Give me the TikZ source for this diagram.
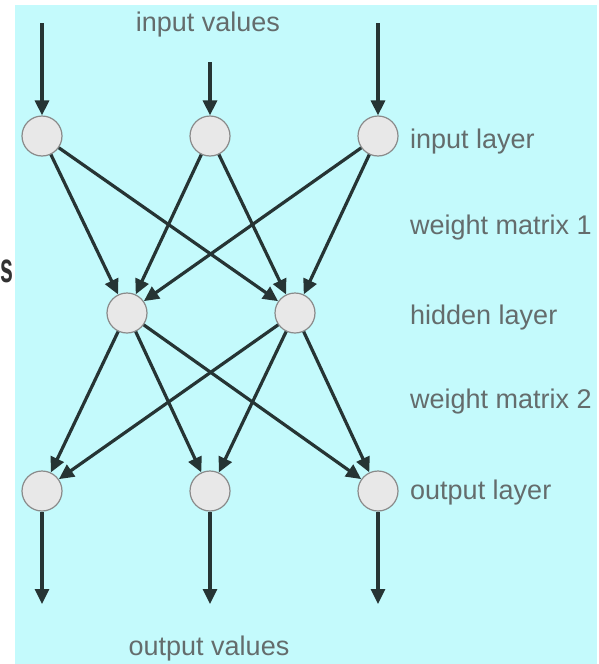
\documentclass[tikz,border=0pt]{standalone}
\usepackage{fontspec}
\setmainfont{Liberation Sans}
\usetikzlibrary{arrows.meta}
\definecolor{bgcyan}{RGB}{196,250,252}
\definecolor{nodefill}{RGB}{232,232,232}
\definecolor{nodeline}{RGB}{138,138,138}
\definecolor{edgecol}{RGB}{38,52,52}
\definecolor{txtcol}{RGB}{100,108,108}
\tikzset{
  neuron/.style={circle, draw=nodeline, fill=nodefill, line width=1.2pt, minimum size=40pt, inner sep=0pt},
  conn/.style={draw=edgecol, line width=3.2pt, -{Triangle[length=15pt,width=14pt]}},
  lbl/.style={text=txtcol, font=\fontsize{27}{30}\selectfont, inner sep=0pt},
}
\begin{document}
\begin{tikzpicture}[x=1pt,y=-1pt]
\useasboundingbox (0,0) rectangle (599,664);
\fill[bgcyan] (15,5) rectangle (597,664);
\node[text={rgb,255:red,50;green,50;blue,50}, font=\fontsize{42}{46}\selectfont\bfseries, inner sep=0pt, anchor=west] (s) at (0.5,271) {\scalebox{0.55}[1]{s}};
% nodes
\node[neuron] (i1) at (42,136) {};
\node[neuron] (i2) at (210,136) {};
\node[neuron] (i3) at (378,136) {};
\node[neuron] (h1) at (127,313) {};
\node[neuron] (h2) at (295,313) {};
\node[neuron] (o1) at (42,491) {};
\node[neuron] (o2) at (210,491) {};
\node[neuron] (o3) at (378,491) {};
% free ends
\coordinate (a1) at (42,23);
\coordinate (a2) at (210,62);
\coordinate (a3) at (378,23);
\coordinate (b1) at (42,604);
\coordinate (b2) at (210,604);
\coordinate (b3) at (378,604);
% labels
\node[lbl] (tin) at (208,25) {input values};
\node[lbl] (tout) at (209,649) {output values};
\node[lbl, anchor=west] (l1) at (410,142) {input layer};
\node[lbl, anchor=west] (l2) at (410,228) {weight matrix 1};
\node[lbl, anchor=west] (l3) at (410,318) {hidden layer};
\node[lbl, anchor=west] (l4) at (410,402) {weight matrix 2};
\node[lbl, anchor=west] (l5) at (410,493) {output layer};
% connectors
\draw[conn] (a1) -- (i1);
\draw[conn] (a2) -- (i2);
\draw[conn] (a3) -- (i3);
\foreach \i in {i1,i2,i3}{
  \foreach \h in {h1,h2}{
    \draw[conn] (\i) -- (\h);
  }
}
\foreach \h in {h1,h2}{
  \foreach \o in {o1,o2,o3}{
    \draw[conn] (\h) -- (\o);
  }
}
\draw[conn] (o1) -- (b1);
\draw[conn] (o2) -- (b2);
\draw[conn] (o3) -- (b3);
\end{tikzpicture}
\end{document}
